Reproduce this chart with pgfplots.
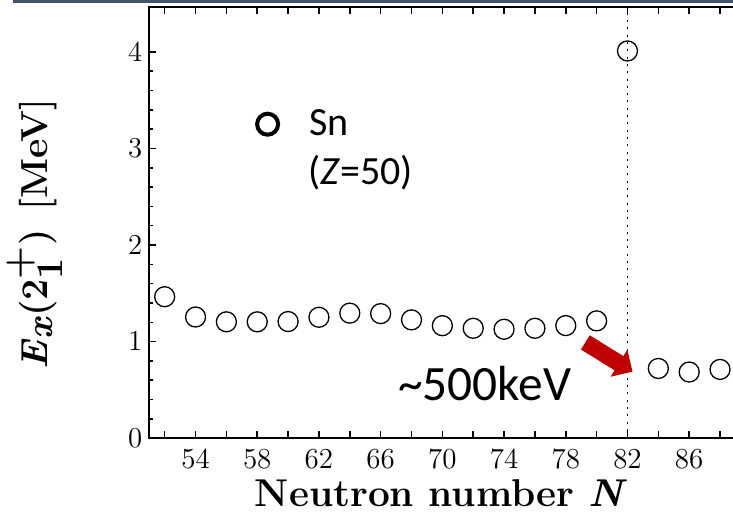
\documentclass[border=0pt]{standalone}
\usepackage{pgfplots}
\pgfplotsset{compat=1.18}
\usepackage{fontspec}
\newfontfamily\carlito{Carlito}
\usetikzlibrary{calc,arrows.meta}
\definecolor{slatebar}{HTML}{44546A}
\definecolor{arrowred}{HTML}{C00000}
\pgfplotstableread{
N E
52 1.465
54 1.255
56 1.205
58 1.205
60 1.208
62 1.252
64 1.295
66 1.290
68 1.225
70 1.165
72 1.138
74 1.128
76 1.138
78 1.166
80 1.215
82 4.010
84 0.722
86 0.685
88 0.712
}\sndata
\begin{document}
\begin{tikzpicture}
\begin{axis}[
  name=ax,
  scale only axis,
  width=300.9pt, height=215.4pt,
  xmin=51, xmax=90, ymin=0, ymax=4.46,
  axis line style={line width=1pt},
  tick align=inside,
  major tick length=3.5pt, minor tick length=2pt,
  tick style={black, line width=0.75pt},
  xtick={52,54,...,90},
  xticklabels={,54,,58,,62,,66,,70,,74,,78,,82,,86,,},
  ytick={0,1,2,3,4},
  minor y tick num=4,
  tick label style={font=\fontsize{14.5}{17}\selectfont},
  xticklabel style={yshift=-2pt},
  xlabel={\textbf{Neutron number \textit{N}}},
  xlabel style={at={(axis description cs:0.4856,-0.1588)}, anchor=base, font=\fontsize{19.4}{23}\selectfont},
  ylabel={\textit{E}$_{\textit{x}}$(2$^{\textrm{+}}_{\textrm{1}}$)\enspace[MeV]},
  ylabel style={at={(axis description cs:-0.19,0.474)}, anchor=center, font=\bfseries\fontsize{18.8}{22}\selectfont},
  legend style={draw=none, fill=none, at={(0.1786,0.729)}, anchor=west, inner sep=0pt, column sep=13.5pt, font=\carlito\fontsize{20}{24}\selectfont},
  clip=false,
]
\addplot[only marks, mark=o, mark size=5pt, mark options={line width=0.65pt, black}, forget plot] table[x=N, y=E] {\sndata};
\addplot[black, line width=0.9pt, dash pattern=on 1pt off 2.65pt, forget plot] coordinates {(82,0) (82,4.46)};
\addlegendimage{only marks, mark=o, mark size=5.25pt, mark options={line width=2pt, black}}
\addlegendentry{Sn}
\coordinate (zl) at (axis cs:61.27,2.622);
\coordinate (kl) at (axis cs:67.10,0.386);
\coordinate (a1) at (axis cs:79.27,0.992);
\coordinate (a2) at (axis cs:82.33,0.689);
\coordinate (re) at (axis cs:88.84,4.46);
\end{axis}
\node[anchor=base west, inner sep=0pt, font=\carlito\fontsize{20}{24}\selectfont] at (zl) {(\textit{Z}=50)};
\node[anchor=base west, inner sep=0pt, font=\carlito\fontsize{24.7}{29}\selectfont] at (kl) {\textasciitilde500keV};
\draw[arrowred, line width=8.35pt, -{Triangle[width=15.4pt,length=8pt]}] (a1) -- (a2);
\fill[slatebar] ($(ax.north west)+(-68.15pt,2.25pt)$) rectangle ($(re)+(0pt,3.75pt)$);
\pgfresetboundingbox
\path[use as bounding box] ($(ax.south west)+(-74.65pt,-37.35pt)$) rectangle ($(re)+(0pt,3.75pt)$);
\end{tikzpicture}
\end{document}
